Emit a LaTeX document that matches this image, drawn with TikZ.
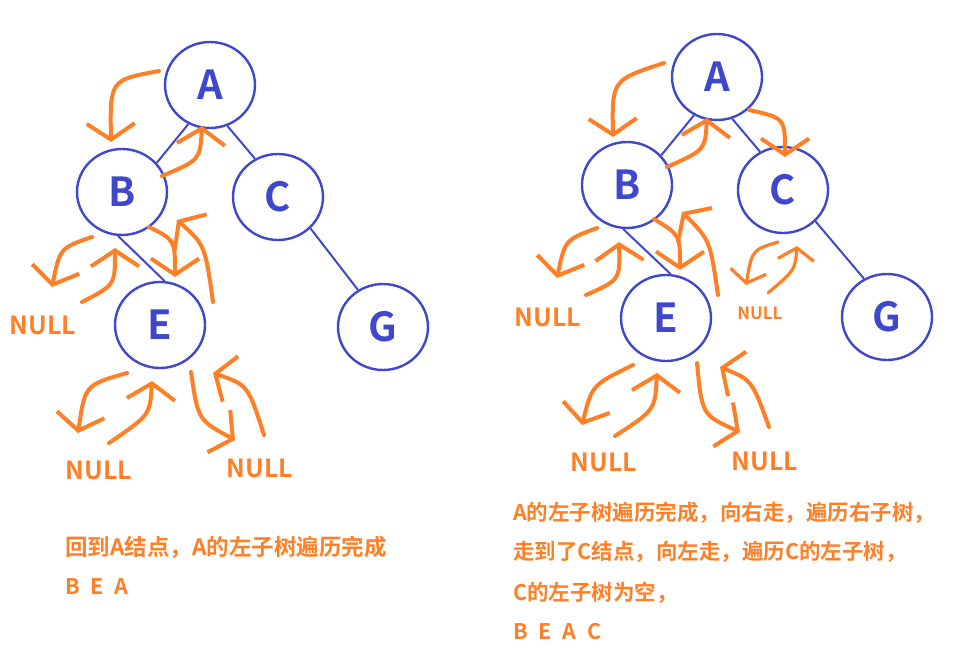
\documentclass[tikz,border=0pt]{standalone}
\usepackage{fontspec}
\setmainfont{Noto Sans CJK SC}[BoldFont={Noto Sans CJK SC Bold}]
\usetikzlibrary{arrows.meta,shapes.geometric}
\definecolor{treeblue}{HTML}{3F48CC}
\definecolor{walkorange}{HTML}{FF7F27}
\tikzset{
  treenode/.style={draw=treeblue,line width=2.4pt,ellipse,minimum width=90pt,minimum height=86pt,inner sep=0pt,text=treeblue,font=\fontsize{40}{40}\selectfont\bfseries},
  treeedge/.style={draw=treeblue,line width=2pt},
  walk/.style={draw=walkorange,line width=4pt,line cap=round,-{Straight Barb[length=16pt,width=48pt]}},
  smallwalk/.style={walk,line width=3.2pt,-{Straight Barb[length=12pt,width=36pt]}},
  nulltxt/.style={text=walkorange,font=\fontsize{25}{25}\selectfont\bfseries},
  note/.style={text=walkorange,font=\fontsize{21.5}{21.5}\selectfont\bfseries,anchor=west,inner sep=0pt}
}
\begin{document}
\begin{tikzpicture}[x=1pt,y=-1pt]
  \useasboundingbox (0,0) rectangle (975,655);
  % left tree
  \node[treenode] (lA) at (210,85) {A};
  \node[treenode] (lB) at (122,192) {B};
  \node[treenode] (lC) at (278,197) {C};
  \node[treenode] (lE) at (160,325) {E};
  \node[treenode] (lG) at (383,327) {G};
  \draw[treeedge] (lA.241) -- (lB.40);
  \draw[treeedge] (lA.293) -- (lC.121);
  \draw[treeedge] (lB.265) -- (lE.84);
  \draw[treeedge] (lC.316) -- (lG.124);
  % right tree
  \node[treenode] (rA) at (717,77) {A};
  \node[treenode] (rB) at (627,185) {B};
  \node[treenode] (rC) at (783,190) {C};
  \node[treenode] (rE) at (666,318) {E};
  \node[treenode] (rG) at (887,317) {G};
  \draw[treeedge] (rA.239) -- (rB.41);
  \draw[treeedge] (rA.290) -- (rC.121);
  \draw[treeedge] (rB.265) -- (rE.84);
  \draw[treeedge] (rC.316) -- (rG.121);
  % traversal strokes
  \foreach \s/\c/\t in {
    {159,71}/{110,80}/{111,142}, {162,176}/{200,160}/{202,126},
    {92,237}/{60,248}/{52,287}, {82,302}/{115,285}/{115,248},
    {149,227}/{175,240}/{175,277}, {213,302}/{205,245}/{177,220},
    {127,373}/{85,385}/{78,433}, {109,443}/{150,415}/{152,381},
    {191,372}/{198,420}/{235,440}, {264,435}/{248,385}/{213,373},
    {664,63}/{612,80}/{613,137}, {667,167}/{705,150}/{707,118},
    {749,110}/{785,118}/{785,157},
    {597,228}/{565,240}/{557,278}, {586,295}/{620,280}/{619,242},
    {654,219}/{680,235}/{680,270}, {718,295}/{710,240}/{682,212},
    {633,365}/{592,385}/{582,425}, {615,436}/{655,410}/{657,373},
    {697,363}/{702,415}/{740,432}, {769,427}/{752,380}/{720,367}} {
    \draw[walk] (\s) .. controls (\c) .. (\t);
  }
  \draw[smallwalk] (778,242) .. controls (752,250) .. (746,285);
  \draw[smallwalk] (768,293) .. controls (795,270) .. (797,246);
  % NULL labels
  \node[nulltxt] (ln1) at (43,325) {NULL};
  \node[nulltxt] (ln2) at (99,470) {NULL};
  \node[nulltxt] (ln3) at (260,468) {NULL};
  \node[nulltxt] (rn1) at (548,317) {NULL};
  \node[nulltxt] (rn2) at (604,462) {NULL};
  \node[nulltxt] (rn3) at (765,461) {NULL};
  \node[nulltxt,font=\fontsize{17}{17}\selectfont\bfseries] (rn4) at (760,313) {NULL};
  % notes
  \node[note,font=\fontsize{22.5}{22.5}\selectfont\bfseries] (lt1) at (65,547) {回到A结点，A的左子树遍历完成};
  \node[note] (lt2) at (65,587) {B\enspace E\enspace A};
  \node[note] (rt1) at (513,513) {A的左子树遍历完成，向右走，遍历右子树，};
  \node[note] (rt2) at (513,552) {走到了C结点，向左走，遍历C的左子树，};
  \node[note] (rt3) at (513,593) {C的左子树为空，};
  \node[note] (rt4) at (513,632) {B\enspace E\enspace A\enspace C};
\end{tikzpicture}
\end{document}
